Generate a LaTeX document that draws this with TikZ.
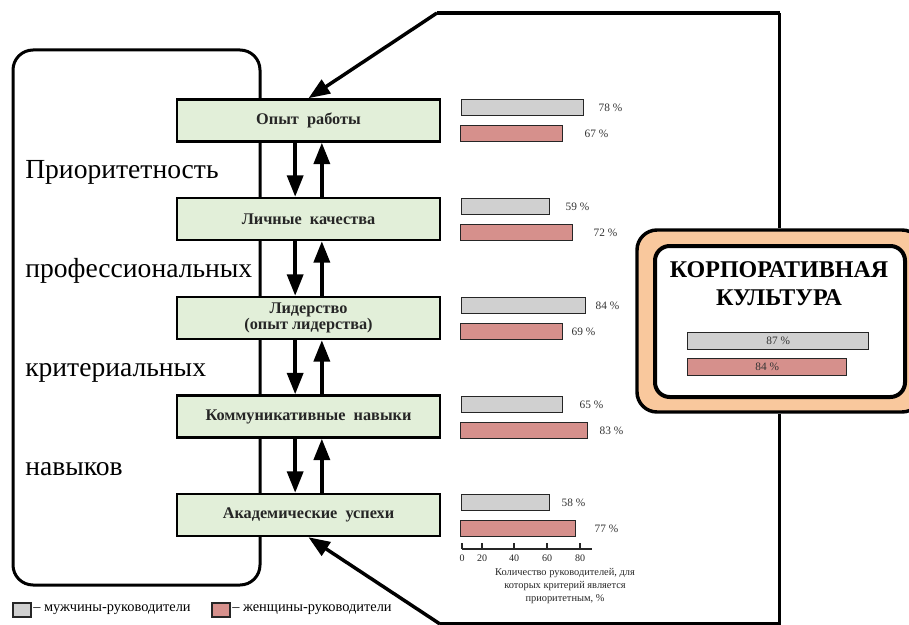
\documentclass[tikz,border=0pt]{standalone}
\usepackage{fontspec}
\setmainfont{Liberation Serif}
\usepackage{xcolor}
\usepackage{tikz}
\usetikzlibrary{arrows.meta, positioning}

\definecolor{critgreen}{HTML}{E2EFD9}
\definecolor{mengray}{HTML}{D0D0D0}
\definecolor{womenred}{HTML}{D6908C}
\definecolor{corppeach}{HTML}{F9C89D}

\begin{document}
\begin{tikzpicture}[
  x=0.75pt, y=-0.75pt,
  crit/.style={draw, fill=critgreen, line width=1.9pt, minimum width=197pt, minimum height=31.5pt, align=center, font=\bfseries\fontsize{12.2}{12}\selectfont, text=black!85},
  mbar/.style={draw=black!85, fill=mengray, line width=1pt, minimum height=12pt, inner sep=0pt, anchor=north west},
  wbar/.style={mbar, fill=womenred},
  pct/.style={font=\fontsize{8.5}{10}\selectfont, text=black!80, inner sep=0pt},
  tick/.style={font=\fontsize{7.5}{9}\selectfont, text=black!85, inner sep=0pt},
  big/.style={font=\fontsize{20.7}{24}\selectfont, anchor=base west, inner sep=0pt},
  flow/.style={line width=2.6pt, -{Triangle[length=16pt, width=12pt]}},
  link/.style={line width=2.6pt},
]
\useasboundingbox (0,0) rectangle (909,624);

% left frame with the caption
\node[draw, line width=2.25pt, rounded corners=15pt, minimum width=185.25pt, minimum height=401.25pt] (frame) at (136.5,317.5) {};
\node[big] (w1) at (25,178) {Приоритетность};
\node[big] (w2) at (25,277) {профессиональных};
\node[big] (w3) at (25,376) {критериальных};
\node[big] (w4) at (25,475) {навыков};

% criteria
\node[crit] (b1) at (308.5,120.5) {Опыт~~работы};
\node[crit] (b2) at (308.5,219) {Личные~~качества};
\node[crit] (b3) at (308.5,318) {Лидерство\\(опыт лидерства)};
\node[crit] (b4) at (308.5,416.5) {Коммуникативные~~навыки};
\node[crit] (b5) at (308.5,515) {Академические~~успехи};

% arrows between criteria
\draw[flow] ([xshift=-10pt]b1.south) -- ([xshift=-10pt]b2.north);
\draw[flow] ([xshift=10pt]b2.north) -- ([xshift=10pt]b1.south);
\draw[flow] ([xshift=-10pt]b2.south) -- ([xshift=-10pt]b3.north);
\draw[flow] ([xshift=10pt]b3.north) -- ([xshift=10pt]b2.south);
\draw[flow] ([xshift=-10pt]b3.south) -- ([xshift=-10pt]b4.north);
\draw[flow] ([xshift=10pt]b4.north) -- ([xshift=10pt]b3.south);
\draw[flow] ([xshift=-10pt]b4.south) -- ([xshift=-10pt]b5.north);
\draw[flow] ([xshift=10pt]b5.north) -- ([xshift=10pt]b4.south);

% bars: men (gray) and women (red)
\node[mbar, minimum width=91.5pt] (m1) at (461,99) {};
\node[wbar, minimum width=76.5pt] (f1) at (460,125) {};
\node[pct, right=10.5pt of m1] (m1v) {78 \%};
\node[pct, right=15.75pt of f1] (f1v) {67 \%};

\node[mbar, minimum width=66pt] (m2) at (461,198) {};
\node[wbar, minimum width=84pt] (f2) at (460,224) {};
\node[pct, right=11.25pt of m2] (m2v) {59 \%};
\node[pct, right=15pt of f2] (f2v) {72 \%};

\node[mbar, minimum width=93pt] (m3) at (461,297) {};
\node[wbar, minimum width=76.5pt] (f3) at (460,323) {};
\node[pct, right=6.75pt of m3] (m3v) {84 \%};
\node[pct, right=6pt of f3] (f3v) {69 \%};

\node[mbar, minimum width=75.75pt] (m4) at (461,396) {};
\node[wbar, minimum width=95.25pt] (f4) at (460,422) {};
\node[pct, right=12pt of m4] (m4v) {65 \%};
\node[pct, right=8.25pt of f4] (f4v) {83 \%};

\node[mbar, minimum width=66pt] (m5) at (461,494) {};
\node[wbar, minimum width=86.25pt] (f5) at (460,520) {};
\node[pct, right=8.25pt of m5] (m5v) {58 \%};
\node[pct, right=13.5pt of f5] (f5v) {77 \%};

% axis
\draw[line width=1.2pt, black!85] (462,549) -- (592,549);
\draw[line width=1.2pt, black!85] (462,543) -- (462,549) (482,543) -- (482,549) (514,543) -- (514,549) (547,543) -- (547,549) (580,543) -- (580,549);
\node[tick] (t0) at (462,558) {0};
\node[tick] (t20) at (482,558) {20};
\node[tick] (t40) at (514,558) {40};
\node[tick] (t60) at (547,558) {60};
\node[tick] (t80) at (580,558) {80};
\node[tick, align=center, font=\fontsize{7.8}{9.75}\selectfont] (cap) at (565,586) {Количество руководителей, для\\которых критерий является\\приоритетным, \%};

% corporate culture
\node[draw, fill=corppeach, line width=2.6pt, rounded corners=15pt, minimum width=213.75pt, minimum height=136.5pt] (corp) at (779.5,321) {};
\node[draw, fill=white, line width=3pt, rounded corners=11pt, minimum width=187.5pt, minimum height=113.25pt] (corpin) at (780,321.5) {};
\node[align=center, font=\bfseries\fontsize{18}{21}\selectfont, inner sep=0pt] (title) at (779,284) {КОРПОРАТИВНАЯ\\КУЛЬТУРА};
\node[mbar, minimum width=135.75pt, minimum height=12.75pt, font=\fontsize{8.5}{10}\selectfont, text=black!80] (cm) at (687,332) {87 \%};
\node[wbar, minimum width=119.25pt, minimum height=12.75pt, font=\fontsize{8.5}{10}\selectfont, text=black!80] (cf) at (687,358) {84 \%};

% outer contour
\coordinate (ptop) at (437,13);
\coordinate (tr) at (779.5,13);
\coordinate (br) at (779.5,624);
\coordinate (pbot) at (440,624);
\draw[link] (tr) -- (corp.north);
\draw[flow] (ptop) -- (b1.north);
\draw[link, line join=miter] (ptop) -- (tr);
\draw[link] (corp.south) -- (br) -- (pbot);
\draw[flow] (pbot) -- (b5.south);

% legend
\node[draw=black!85, fill=mengray, line width=1pt, minimum width=13.5pt, minimum height=10.5pt, inner sep=0pt] (lm) at (22,610) {};
\node[anchor=west, inner sep=0pt, font=\fontsize{10.8}{12}\selectfont] (lmt) at (33,610) {– мужчины-руководители};
\node[draw=black!85, fill=womenred, line width=1pt, minimum width=13.5pt, minimum height=10.5pt, inner sep=0pt] (lf) at (221,610) {};
\node[anchor=west, inner sep=0pt, font=\fontsize{10.8}{12}\selectfont] (lft) at (232,610) {– женщины-руководители};
\end{tikzpicture}
\end{document}
